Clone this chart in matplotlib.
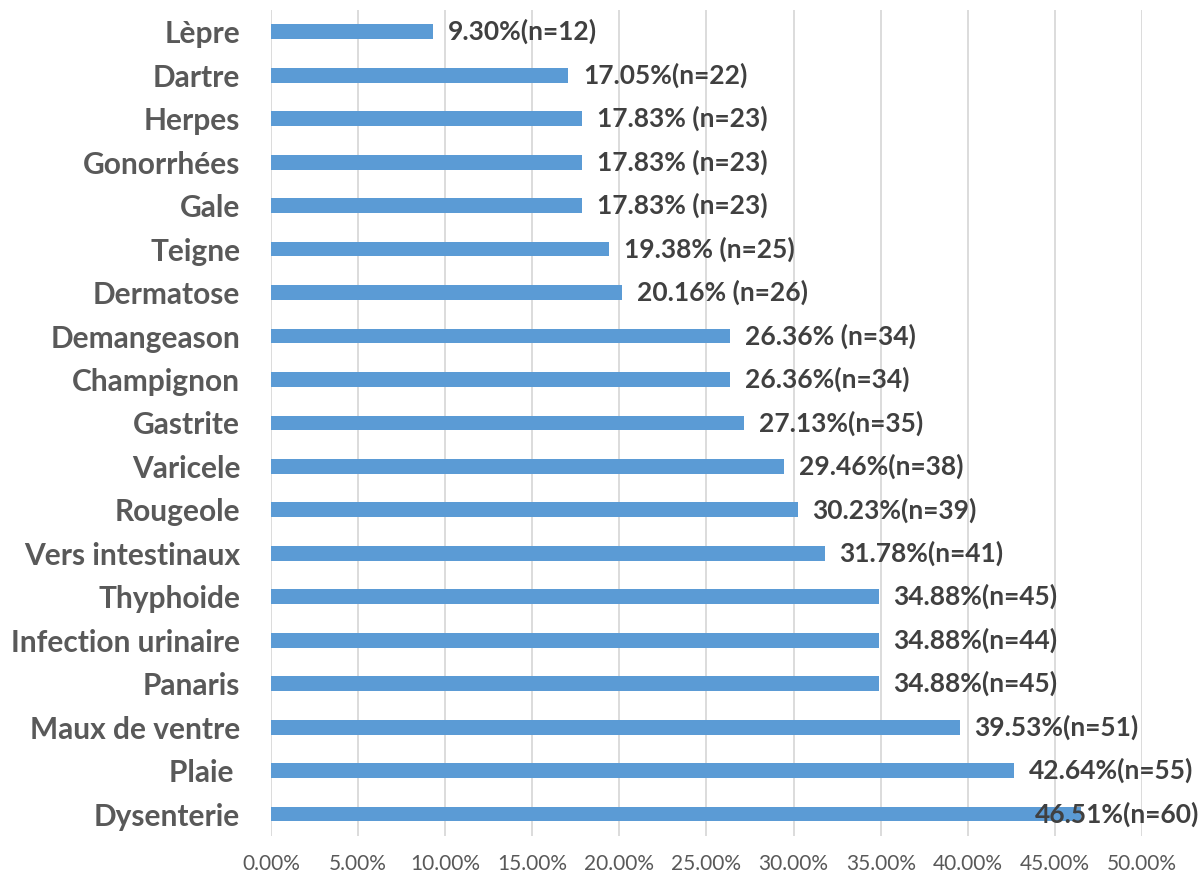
import matplotlib.pyplot as plt
from matplotlib.ticker import FuncFormatter, MultipleLocator
from matplotlib.transforms import offset_copy

# data, top to bottom as in the chart
maladies = ["Lèpre", "Dartre", "Herpes", "Gonorrhées", "Gale", "Teigne", "Dermatose",
            "Demangeason", "Champignon", "Gastrite", "Varicele", "Rougeole",
            "Vers intestinaux", "Thyphoide", "Infection urinaire", "Panaris",
            "Maux de ventre", "Plaie ", "Dysenterie"]
pourcent = [9.30, 17.05, 17.83, 17.83, 17.83, 19.38, 20.16, 26.36, 26.36, 27.13,
            29.46, 30.23, 31.78, 34.88, 34.88, 34.88, 39.53, 42.64, 46.51]
etiquettes = ["9.30%(n=12)", "17.05%(n=22)", "17.83% (n=23)", "17.83% (n=23)",
              "17.83% (n=23)", "19.38% (n=25)", "20.16% (n=26)", "26.36% (n=34)",
              "26.36%(n=34)", "27.13%(n=35)", "29.46%(n=38)", "30.23%(n=39)",
              "31.78%(n=41)", "34.88%(n=45)", "34.88%(n=44)", "34.88%(n=45)",
              "39.53%(n=51)", "42.64%(n=55)", "46.51%(n=60)"]

plt.rcParams['font.family'] = ['Lato', 'DejaVu Sans']

fig = plt.figure(figsize=(12.04, 8.77), dpi=100)
ax = fig.add_axes([0.225, 0.047, 0.7235, 0.9415])

y = list(range(len(maladies)))
ax.barh(y, pourcent, height=0.34, color="#5B9BD5", zorder=3)

ax.set_xlim(0, 50)
ax.set_ylim(len(maladies) - 0.5, -0.5)
ax.set_yticks(y)
ax.set_yticklabels(maladies, fontsize=21.5, fontweight="bold", color="#595959")
ax.xaxis.set_major_locator(MultipleLocator(5))
ax.xaxis.set_major_formatter(FuncFormatter(lambda v, p: f"{v:.2f}%"))
ax.tick_params(axis="x", labelsize=15, labelcolor="#595959", length=0, pad=13)
ax.tick_params(axis="y", length=0, pad=22)
ax.grid(axis="x", color="#D9D9D9", linewidth=1.3, zorder=0)
for s in ax.spines.values():
    s.set_visible(False)

for i, (v, t) in enumerate(zip(pourcent, etiquettes)):
    dx = 15 if i < len(pourcent) - 1 else -46
    tr = offset_copy(ax.transData, fig=fig, x=dx, y=0, units="dots")
    ax.text(v, i, t, transform=tr, ha="left", va="center", fontsize=19,
            fontweight="bold", color="#404040", zorder=4)

fig.savefig("out.png", dpi=100)
